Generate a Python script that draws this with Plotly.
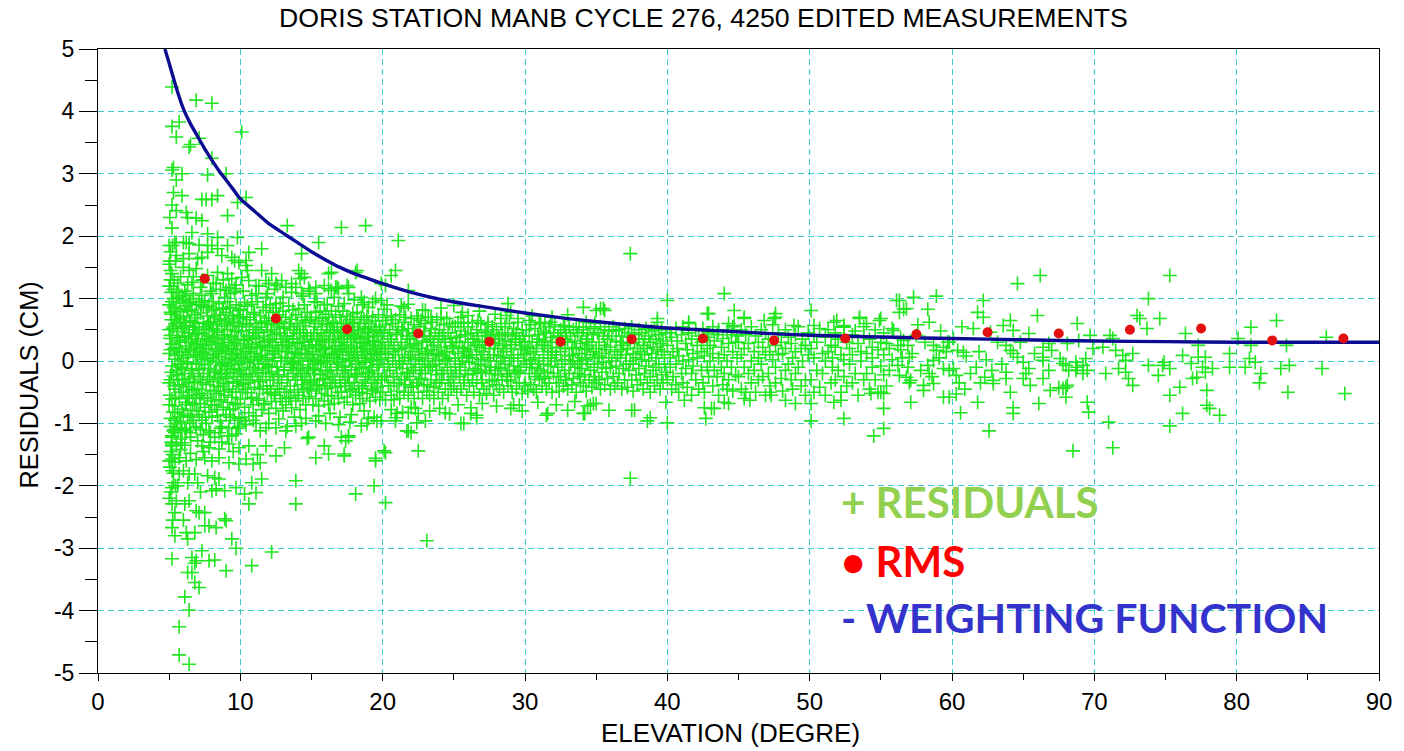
import plotly.graph_objects as go

TITLE = "DORIS STATION MANB CYCLE 276, 4250 EDITED MEASUREMENTS"
X_TITLE = "ELEVATION (DEGRE)"
Y_TITLE = "RESIDUALS (CM)"
X_TICKS = [0, 10, 20, 30, 40, 50, 60, 70, 80, 90]
X_TICK_LABELS = ["0", "10", "20", "30", "40", "50", "60", "70", "80", "90"]
Y_TICKS = [-5, -4, -3, -2, -1, 0, 1, 2, 3, 4, 5]
Y_TICK_LABELS = ["-5", "-4", "-3", "-2", "-1", "0", "1", "2", "3", "4", "5"]
LEGEND_LINES = ["+ RESIDUALS", "\u2022 RMS", "- WEIGHTING FUNCTION"]

# RMS per 5-degree elevation bin
RMS_ELEV = [7.5, 12.5, 17.5, 22.5, 27.5, 32.5, 37.5, 42.5, 47.5, 52.5,
            57.5, 62.5, 67.5, 72.5, 77.5, 82.5, 87.5]
RMS_VALUE = [1.32, 0.68, 0.51, 0.44, 0.31, 0.31, 0.35, 0.36, 0.33, 0.36,
             0.43, 0.46, 0.44, 0.50, 0.52, 0.33, 0.36]

# weighting function
WEIGHT_ELEV = [4.7, 5.0, 5.5, 6.0, 6.5, 7.0, 7.5, 8.0, 8.5, 9.0, 9.5, 10, 11, 12, 13,
               14, 15, 16, 17, 18, 19, 20, 22, 24, 26, 28, 30, 33, 36, 40, 44, 48,
               52, 56, 60, 65, 70, 75, 80, 90]
WEIGHT_VALUE = [5.0, 4.77, 4.38, 4.04, 3.8, 3.6, 3.4, 3.22, 3.05, 2.9, 2.75, 2.6, 2.4,
                2.2, 2.05, 1.9, 1.75, 1.62, 1.5, 1.4, 1.32, 1.24, 1.1, 0.99, 0.91, 0.84,
                0.77, 0.68, 0.61, 0.53, 0.48, 0.43, 0.40, 0.38, 0.36, 0.34, 0.32, 0.31,
                0.30, 0.30]

# residuals, "elevation: residual residual ..." groups
RESID_UPPER_OUT = """
5.2: 4.39 3.76 3.06 2.5 2.13 1.4; 6.9: 4.18; 8.0: 4.13 3.25 2.59 1.85; 5.7: 3.83; 5.5: 3.59 2.41 1.9 1.69 1.1;
6.4: 3.43 1.88 1.72 1.45; 6.5: 3.47; 7.1: 3.57 1.86; 10.1: 3.67 1.34; 5.3: 3.1; 5.9: 3.0 2.65 1.05;
7.7: 2.98 2.04 1.85 1.74 1.37; 9.0: 3.0 1.13; 7.3: 2.59 2.25 1.66 1.29; 7.6: 2.59; 8.4: 2.65 1.98 1.8 1.42;
9.8: 2.54 1.98; 10.4: 2.62 1.61 1.53; 6.2: 2.38 1.9; 6.3: 2.3; 6.9: 2.29 1.48; 9.1: 2.33 1.85 1.4;
13.3: 2.17; 17.1: 2.14; 18.8: 2.17; 15.5: 1.9; 21.1: 1.93; 6.6: 2.06 1.26; 6.0: 1.9 1.64 1.5;
10.6: 1.74 1.29; 11.5: 1.8 1.45; 14.3: 1.72 1.4 1.08; 20.9: 1.45; 20.6: 1.37; 18.1: 1.42; 16.2: 1.4 1.16;
14.1: 1.45; 12.2: 1.4; 7.0: 1.64; 8.7: 1.69; 9.4: 1.66 1.32; 9.6: 1.61 1.16; 9.9: 1.58; 10.5: 1.45;
8.3: 1.24; 9.2: 1.18; 12.9: 1.29; 13.6: 1.24; 14.2: 1.32; 14.5: 1.34; 15.3: 1.18 1.08; 15.9: 1.21;
16.4: 1.13 1.42; 16.9: 1.16; 17.5: 1.21; 11.8: 1.29 1.02; 12.5: 1.24 0.92; 11.1: 1.21 1.08; 21.8: 1.13;
20.2: 1.21; 18.2: 1.45; 16.8: 1.18; 17.6: 1.18 1.08; 13.2: 1.18; 12.0: 1.24; 12.6: 1.21; 13.9: 1.18;
14.8: 1.16; 16.7: 1.18; 18.5: 1.02; 19.5: 1.0; 19.9: 1.24; 5.4: 1.9; 5.0: 1.2 1.55; 5.1: 1.3 1.75;
5.3: 1.15; 5.6: 1.25; 5.8: 1.35; 6.1: 1.12; 6.3: 1.22; 6.7: 1.08 1.35; 7.2: 1.18; 7.4: 1.3; 7.9: 1.12;
8.1: 1.25; 8.6: 1.15; 8.8: 1.3; 9.3: 1.08; 9.7: 1.22
5.0: -1.6 1.85 -2.2 0.9; 5.05: 1.6 -1.7 2.3; 5.1: -2.1 1.45 -0.3; 5.15: 1.1 -1.3 0.75;
5.25: 1.85 -1.5 -2.55; 5.3: -1.8 2.7; 5.35: 1.3 -1.1; 5.45: -2.0 1.6; 5.5: 2.9 -1.35
"""

RESID_LOWER_OUT = """
5.2: -1.22 -1.36 -1.76 -2.03 -2.29 -2.67 -3.17 -1.57 -1.33; 5.6: -1.07 -2.0; 6.2: -1.12 -1.6 -2.75;
6.9: -1.07 -1.58 -2.4 -3.2; 7.8: -1.12 -1.39 -2.64 -3.2; 8.5: -1.15 -1.89 -1.55 -1.41; 9.2: -1.07 -1.63 -1.33;
9.7: -1.17 -2.03 -3.0; 9.9: -0.92 -1.65 -1.39; 10.3: -0.96 -2.13; 11.1: -1.0 -2.11; 11.8: -1.07 -1.36;
12.5: -1.07 -1.52; 13.2: -1.12; 13.9: -1.04 -1.92 -2.29; 14.8: -1.22; 15.3: -1.55 -0.96; 16.2: -1.49;
17.3: -1.52 -1.49; 15.9: -1.36; 17.6: -1.22 -1.2; 18.5: -1.04; 19.0: -0.92; 19.9: -0.96; 20.9: -0.91 -0.96;
21.8: -1.12 -0.83; 22.0: -1.15; 22.5: -1.44 -0.84; 22.4: -0.99; 19.4: -2.0; 18.1: -2.13; 20.2: -2.27 -1.47;
19.5: -1.6 -1.56; 12.2: -3.06; 10.8: -3.28 -1.95; 9.0: -3.36 -2.56; 9.4: -2.85; 5.7: -1.81 -1.55 -4.26 -4.71;
6.0: -1.76 -2.55; 6.4: -1.81 -2.24 -3.99 -4.86; 6.8: -1.81 -2.75 -3.55 -3.24; 5.3: -1.95; 7.7: -1.84;
8.2: -1.87 -3.19 -1.22; 8.0: -2.08 -1.6; 8.3: -2.05 -2.67; 8.9: -2.08 -2.53; 10.6: -2.29 -1.36; 11.5: -1.89;
5.4: -2.43 -2.8 -1.15 -1.62; 5.5: -2.24; 6.1: -2.29 -3.78 -1.35; 7.1: -2.43 -3.63; 7.5: -2.43 -2.64 -1.55;
6.3: -2.85 -3.39 -1.95; 6.6: -3.15 -3.39; 7.3: -3.04 -1.36; 5.9: -1.31; 10.4: -1.57; 10.9: -1.65;
11.4: -1.63; 11.2: -1.5; 13.1: -1.39; 14.7: -1.24; 17.1: -1.22; 17.4: -1.28; 20.1: -1.44; 21.7: -1.12;
25.7: -1.0; 23.0: -0.96; 24.4: -0.83; 26.2: -0.84; 26.6: -0.87 -0.91; 29.0: -0.76; 31.5: -0.87;
33.0: -0.79; 34.2: -0.84; 16.0: -1.0; 16.9: -1.02; 17.7: -0.98; 18.9: -1.0; 19.6: -0.96; 21.0: -0.84;
22.3: -0.76; 23.1: -2.88; 25.5: -1.0; 29.6: -0.71; 31.6: -0.84; 34.1: -0.84; 34.8: -0.68; 35.9: -0.79;
37.7: -0.79; 38.6: -0.96; 38.8: -0.91; 40.0: -0.99; 39.9: -0.66; 41.2: -0.63; 42.6: -0.75; 43.3: -0.76;
42.7: -0.92; 44.0: -0.66; 44.3: -0.68; 45.8: -0.63; 48.3: -0.63; 49.0: -0.68; 50.1: -0.96 -0.68;
51.7: -0.66; 52.2: -0.63; 52.4: -0.92; 54.5: -1.2; 55.2: -1.08 -0.76 -0.52; 54.3: -0.52; 55.0: -0.5;
37.4: -1.88; 34.6: -0.71; 35.0: -0.68; 37.5: -0.79; 43.1: -0.76; 45.4: -0.6; 47.2: -0.5; 47.3: -0.55;
5.1: -1.05 -1.45; 5.8: -1.25 -1.42; 6.5: -1.22 -1.48; 7.0: -1.28 -1.95; 7.4: -1.18 -1.45; 7.9: -1.3;
8.7: -1.3 -1.05; 9.1: -1.2; 9.5: -1.45; 9.8: -1.08; 7.2: -2.1
"""

RESID_MID_OUT = """
37.4: 1.72; 44.0: 1.08; 40.0: 0.97; 28.8: 0.92; 25.0: 0.89; 34.1: 0.86; 35.3: 0.84; 35.6: 0.81;
42.8: 0.76; 44.7: 0.81 0.57; 45.4: 0.7 0.68; 47.6: 0.76 0.7; 47.5: 0.68; 50.1: 0.81; 56.1: 0.97;
56.8: 0.84; 53.5: 0.7 0.68; 55.0: 0.68; 51.9: 0.65; 52.4: 0.57 0.54; 39.3: 0.68 0.62; 41.5: 0.6 0.62;
23.0: 0.81; 23.4: 0.7; 22.5: 0.68; 26.0: 0.73; 25.5: 0.7; 26.7: 0.65; 27.4: 0.62; 28.3: 0.68; 28.7: 0.73;
29.5: 0.68; 30.3: 0.65; 31.0: 0.62; 31.4: 0.6; 31.8: 0.62; 32.8: 0.57; 33.6: 0.54; 34.3: 0.62; 34.9: 0.6;
35.0: 0.81; 35.5: 0.84; 42.9: 0.76; 46.8: 0.65; 44.3: 0.6; 48.9: 0.57; 50.3: 0.57; 51.7: 0.62; 54.0: 0.6;
54.9: 0.65; 55.9: 0.49; 21.8: 0.91; 21.3: 0.88; 19.9: 0.97; 20.1: 0.83; 18.7: 0.94; 19.0: 0.86;
15.4: 0.94; 16.1: 0.91; 16.9: 0.88
"""

RESID_HIGH = """
56.3: 0.97 0.78 -0.23; 57.3: 1.02; 58.9: 1.04 0.17; 56.6: 0.83 0.33; 58.3: 0.83 -0.07; 58.4: 0.62 -0.2;
57.5: 0.41; 56.4: 0.36 0.18; 56.9: 0.25 -0.1; 56.2: 0.25 -0.07; 58.7: 0.25 0.01 -0.36; 59.6: 0.15;
59.4: 0.22 -0.12 -0.58; 60.4: 0.17; 60.8: 0.14; 59.7: 0.3; 60.1: 0.36 -0.12; 57.0: 0.06 -0.35; 56.8: -0.26;
57.1: -0.31 -0.66; 58.0: -0.39 -0.47; 59.8: -0.15 -0.58 0.3; 60.3: -0.23 -0.53; 60.6: -0.83; 60.9: -0.45;
61.8: -0.66 0.78; 61.5: 0.52; 62.2: 0.7 0.97; 62.7: 0.46; 63.6: 0.57; 64.1: 0.65 0.17 -0.5;
64.3: 0.49 0.12 -0.75 -0.84; 64.6: 1.24 0.06; 66.2: 1.37; 66.0: 0.73; 65.4: 0.44 -0.12; 61.7: -0.1;
62.3: -0.26; 62.0: -0.35; 62.9: -0.31 -0.36; 63.8: -0.18 -0.28 0.25; 65.0: -0.02 -0.28; 65.5: -0.39;
62.6: -1.12; 66.1: -0.68; 66.9: -0.47; 67.5: -0.43; 67.8: -0.44 -0.04; 68.1: -0.39 0.28; 67.0: 0.17;
66.4: 0.22 0.06 0.01 -0.28; 66.8: 0.28 -0.15; 67.6: 0.04; 68.0: -0.07 -0.58 -0.42; 68.2: -0.15;
68.7: -0.02 -0.15; 68.8: -0.1 0.6; 69.2: -0.2 -0.07; 69.5: -0.15 -0.66; 69.4: 0.04; 68.9: 0.33; 69.7: 0.41;
69.9: 0.2; 69.6: -0.82; 70.6: 0.22; 70.8: -0.2; 71.1: 0.41; 71.3: 0.36 -1.39; 71.5: 0.17; 71.0: -0.98;
68.5: -1.44; 72.0: 0.09; 72.2: 0.01 -0.18; 71.7: -0.12; 72.4: -0.28; 72.7: -0.39 0.12; 73.0: 0.73;
73.2: 0.68; 73.7: 0.52; 73.8: 1.0 -0.07; 74.6: 0.68; 75.3: 1.37 -0.12 -0.55 -1.04; 74.5: -0.23; 74.9: -0.02;
74.8: -0.07; 76.0: -0.42; 76.2: -0.84 0.09; 76.4: 0.44; 76.8: -0.04; 76.9: -0.28; 77.3: 0.25 0.06;
77.8: 0.06 -0.18; 77.6: -0.1; 78.3: -0.12; 77.9: -0.47 -0.71; 78.1: -0.76; 78.8: -0.87; 79.5: 0.12 -0.1;
80.1: 0.36; 80.6: -0.1; 81.0: 0.54 0.25; 80.9: 0.04; 81.3: -0.02; 81.7: -0.2; 81.6: -0.35; 82.8: 0.65;
83.1: -0.12; 83.7: -0.07; 83.6: -0.5; 83.5: 0.25; 86.0: -0.12; 86.3: 0.38; 87.6: -0.52; 77.2: -0.26;
56.5: 0.05; 57.2: 0.12; 57.8: -0.15; 58.1: 0.3; 58.6: -0.25; 59.1: 0.05; 60.5: -0.35; 61.0: 0.08;
61.3: -0.2; 61.9: 0.15; 62.4: 0.02; 62.8: -0.15; 63.2: 0.3; 63.5: -0.05; 64.8: 0.3; 65.2: -0.2; 65.8: 0.12;
57.6: 0.58; 59.2: 0.48; 60.7: 0.55
"""

RESID_CORE_05_10 = """
5.0: 0.12 -0.35 0.5 -0.7; 5.1: 0.78 -0.92 0.41 0.18; 5.2: -0.08 0.95 -0.61 0.27 -1.2; 5.3: -1.12 0.55 -0.24 0.86 1.0;
5.4: 0.03 -0.72 0.66 -0.45 -0.95; 5.5: 0.21 -1.0 0.93 -0.15 0.6; 5.6: 0.47 -0.83 0.72 0.09 -0.3;
5.7: -0.38 1.02 -0.58 0.33 0.15; 5.8: -0.97 0.61 -0.1 0.84 0.3; 5.9: -0.29 0.15 -0.77 0.52 -1.1;
6.0: 0.98 -0.5 0.04 0.71 -0.85; 6.1: -1.08 0.38 -0.2 0.88 0.62; 6.2: -0.66 0.24 0.57 -0.41 1.05;
6.3: 0.79 -0.88 0.1 -0.02 -0.6; 6.4: 0.45 -0.55 0.93 -0.28 0.2; 6.5: 0.18 -0.79 0.64 -1.15 0.95;
6.6: 0.35 -0.12 0.82 -0.47 -0.9; 6.7: 0.06 -0.95 0.55 1.0 -0.25; 6.8: -0.33 0.27 -0.7 0.74 0.5;
6.9: -0.05 0.43 -0.58 0.9 -1.05
7.0: 0.08 -0.44 0.69 0.32; 7.1: -0.86 0.51 -0.13 0.94; 7.2: -0.3 0.22 -0.68 0.77 -1.1; 7.3: 0.02 -0.95 0.44 -0.52 1.05;
7.4: 0.6 -0.2 0.13 0.87; 7.5: -0.74 0.36 -0.06 0.97; 7.6: -0.38 0.55 -1.0 0.19; 7.7: 0.72 -0.59 0.05 -0.25;
7.8: 0.4 -0.82 0.88 0.26; 7.9: -0.12 0.63 -0.47 0.01 -1.15; 8.0: 0.81 -0.64 0.3 -0.9 1.08; 8.1: 0.1 -0.33 0.52 0.95;
8.2: -0.18 0.69 -0.71 0.38; 8.3: -0.02 -0.52 0.84 0.16; 8.4: -0.88 0.46 -0.27 0.6; 8.5: 0.07 -0.62 0.92 0.28;
8.6: -0.41 0.74 -0.08 -0.96 -1.08; 8.7: 0.35 0.56 -0.21 0.12; 8.8: -0.74 0.83 -0.36 0.22; 8.9: 0.64 -0.03 -0.55 0.42 1.02;
9.0: -0.86 0.15 0.78 -0.28; 9.1: 0.5 -0.14 0.95 -0.66; 9.2: 0.3 -0.45 0.68 0.02; 9.3: -0.9 0.57 -0.18 0.86;
9.4: 0.2 -0.58 0.4 -0.04 -1.2; 9.5: 0.72 -0.77 0.1 -0.33; 9.6: 0.62 -0.12 0.34 -0.95 1.1; 9.7: 0.9 -0.5 0.05 0.47;
9.8: -0.25 0.74 -0.68 0.18; 9.9: -0.06 0.55 -0.4 0.81 -1.05
5.05: 0.36 -0.55; 5.15: -0.18 0.66; 5.25: 0.52 -0.82; 5.35: 0.2 -0.4; 5.45: -0.6 0.8; 5.55: 0.38 -0.22;
5.65: -0.05 1.1; 5.75: 0.68 -0.9; 5.85: 0.0 -0.5; 5.95: 0.4 -0.12; 6.05: -0.3 0.55; 6.15: 0.15 -0.7;
6.25: 0.82 -0.05; 6.35: -0.35 0.4; 6.45: 0.65 -1.0; 6.55: -0.15 0.3; 6.65: 0.55 -0.68; 6.75: -0.45 0.2;
6.85: 0.1 0.62; 6.95: -0.8 0.28; 7.05: 0.45 -0.2; 7.15: -0.55 0.15; 7.25: 0.9 -0.05; 7.35: 0.25 -0.35;
7.45: -0.6 0.5; 7.55: 0.1 -0.9; 7.65: 0.35 0.85; 7.75: -0.12 0.58; 7.85: 0.62 -0.3; 7.95: -0.7 0.32;
8.05: 0.05 0.5; 8.15: -0.48 0.72; 8.25: 0.2 -0.15; 8.35: 0.48 -0.78; 8.45: -0.4 0.12; 8.55: 0.66 -0.2;
8.65: 0.25 -0.62; 8.75: -0.05 0.85; 8.85: 0.42 -0.48; 8.95: -0.25 0.18; 9.05: 0.6 -0.08; 9.15: -0.35 0.25;
9.25: 0.85 -0.78; 9.35: 0.05 0.38; 9.45: -0.5 0.62; 9.55: 0.3 -0.2; 9.65: -0.7 0.12; 9.75: 0.28 -0.35;
9.85: 0.48 0.0; 9.95: -0.15 0.68
"""

RESID_CORE_10_20 = """
10.0: 0.25 -0.61 0.83; 10.1: -0.14 0.48 -0.9; 10.2: 0.06 0.71 -0.37 1.12; 10.3: -0.74 0.33 0.94;
10.4: -0.22 0.15 0.58 -1.02; 10.5: -0.51 0.88 -0.03; 10.6: 0.4 -0.83 0.2; 10.7: -0.3 0.66 0.02;
10.8: 0.91 -0.58 0.27 1.05; 10.9: -0.11 0.5 -0.7 -0.95; 11.0: 0.12 0.78 -0.42; 11.1: -0.88 0.37 0.6;
11.2: -0.19 0.07 0.95; 11.3: 0.45 -0.63 -0.05 1.2; 11.4: 0.72 -0.33 0.23 -1.12; 11.5: -0.78 0.54 0.1;
11.6: 0.86 -0.45 -0.12; 11.7: 0.3 -0.68 0.64; 11.8: -0.25 0.02 0.81; 11.9: 0.47 -0.52 0.17 1.08;
12.0: -0.84 0.69 -0.08 -1.0; 12.1: 0.35 0.9 -0.4; 12.2: -0.17 0.58 -0.65; 12.3: 0.11 0.78 -0.3;
12.4: -0.55 0.42 0.0 1.15; 12.5: 0.25 -0.76 0.85; 12.6: -0.1 0.6 -0.44; 12.7: 0.74 -0.22 0.16 -0.93;
12.8: -0.6 0.45 0.93; 12.9: 0.06 -0.35 0.62; 13.0: -0.8 0.3 0.8 1.02; 13.1: 0.52 -0.14 -0.5;
13.2: 0.2 0.7 -0.7; 13.3: -0.3 0.4 0.04 -1.05; 13.4: 0.88 -0.58 0.24; 13.5: -0.05 0.55 -0.4;
13.6: 0.67 -0.75 0.12 1.1; 13.7: -0.2 0.36 0.82; 13.8: 0.5 -0.46 -0.02 -0.9; 13.9: 0.14 -0.64 0.74;
14.0: -0.3 0.6 0.28; 14.1: 0.84 -0.12 -0.55; 14.2: 0.05 0.44 -0.78; 14.3: -0.38 0.7 0.18 -1.0;
14.4: 0.56 -0.6 -0.06 1.04; 14.5: 0.3 -0.25 0.9; 14.6: -0.7 0.12 0.62 -0.92; 14.7: 0.4 -0.42 0.78;
14.8: -0.15 0.22 -0.57; 14.9: 0.66 0.0 -0.32 1.12
15.0: 0.35 -0.48 0.7; 15.1: -0.12 0.15 -0.7; 15.2: 0.55 -0.3 0.02 0.95; 15.3: 0.78 -0.6 0.26;
15.4: -0.05 0.44 -0.38; 15.5: 0.64 0.1 -0.72 -0.88; 15.6: -0.22 0.32 0.8; 15.7: 0.5 -0.52 -0.03;
15.8: 0.18 0.68 -0.28; 15.9: -0.64 0.4 0.06 0.9; 16.0: 0.75 -0.16 0.22; 16.1: -0.44 0.58 0.0;
16.2: 0.3 -0.7 0.7; 16.3: -0.1 0.48 -0.35 -0.84; 16.4: 0.12 0.8 -0.56; 16.5: 0.62 -0.25 0.34;
16.6: -0.68 0.05 0.5 1.02; 16.7: 0.24 -0.42 0.74; 16.8: -0.15 0.55 0.1; 16.9: 0.4 -0.6 -0.02;
17.0: 0.7 0.18 -0.3 -0.9; 17.1: -0.5 0.36 0.6; 17.2: 0.02 -0.2 0.8; 17.3: 0.46 -0.66 0.25 0.92;
17.4: -0.08 0.6 -0.4; 17.5: 0.3 0.72 -0.58; 17.6: -0.25 0.14 0.5; 17.7: 0.66 -0.48 0.04;
17.8: 0.2 -0.14 0.42 -0.86; 17.9: -0.7 0.55 0.76; 18.0: 0.1 -0.34 0.62 0.98; 18.1: 0.38 -0.55 -0.05;
18.2: 0.78 0.22 -0.22; 18.3: -0.44 0.48 0.0; 18.4: 0.6 -0.68 0.3; 18.5: -0.12 0.15 0.7;
18.6: 0.44 -0.4 -0.6 0.9; 18.7: 0.05 0.66 0.28 -0.8; 18.8: -0.3 0.52 -0.02; 18.9: 0.72 -0.52 0.18;
19.0: -0.18 0.38 0.6; 19.1: 0.25 -0.64 -0.1; 19.2: 0.55 0.02 -0.35; 19.3: -0.48 0.7 0.32 0.94;
19.4: 0.12 -0.25 0.48 -0.9; 19.5: 0.64 -0.58 0.2; 19.6: -0.06 0.4 -0.42; 19.7: 0.3 0.74 -0.2;
19.8: -0.62 0.1 0.55; 19.9: 0.45 -0.3 0.02
10.05: 0.1 -0.3; 10.15: 0.6 -0.5; 10.25: -0.2 0.35; 10.35: 0.05 -0.45; 10.45: 0.7 0.4; 10.55: -0.35 0.22;
10.65: 0.55 -0.1; 10.75: -0.6 0.15; 10.85: 0.35 -0.25; 10.95: 0.75 0.0; 11.05: -0.15 0.45; 11.15: 0.2 -0.6;
11.25: 0.5 -0.3; 11.35: -0.45 0.3; 11.45: 0.05 0.62; 11.55: -0.2 0.25; 11.65: 0.4 -0.7; 11.75: 0.1 -0.05;
11.85: 0.6 -0.4; 11.95: -0.1 0.32; 12.05: 0.22 -0.2; 12.15: -0.5 0.5; 12.25: 0.3 0.05; 12.35: -0.3 0.65;
12.45: 0.15 -0.55; 12.55: 0.45 -0.1; 12.65: -0.25 0.2; 12.75: 0.55 -0.45; 12.85: 0.0 0.35; 12.95: 0.25 -0.65;
13.05: -0.15 0.55; 13.15: 0.4 0.05; 13.25: -0.5 0.25; 13.35: 0.15 -0.25; 13.45: 0.6 0.3; 13.55: -0.1 -0.6;
13.65: 0.35 -0.05; 13.75: 0.0 0.5; 13.85: -0.3 0.2; 13.95: 0.45 -0.15; 14.05: 0.1 -0.5; 14.15: 0.5 0.3;
14.25: -0.2 0.0; 14.35: 0.3 -0.3; 14.45: -0.45 0.45; 14.55: 0.12 0.65; 14.65: 0.4 -0.2; 14.75: -0.1 0.1;
14.85: 0.25 -0.45; 14.95: -0.35 0.4; 15.05: 0.05 0.25; 15.15: 0.45 -0.2; 15.25: -0.15 0.6; 15.35: 0.2 -0.45;
15.45: 0.35 0.0; 15.55: -0.4 0.25; 15.65: 0.1 -0.15; 15.75: 0.6 0.3; 15.85: -0.3 0.0; 15.95: 0.2 -0.4;
16.05: 0.45 0.1; 16.15: -0.2 -0.55; 16.25: 0.05 0.35; 16.35: 0.55 -0.15; 16.45: -0.35 0.2; 16.55: 0.1 0.6;
16.65: 0.3 -0.3; 16.75: -0.05 0.05; 16.85: 0.45 -0.5; 16.95: 0.15 0.3; 17.05: -0.4 0.45; 17.15: 0.2 -0.1;
17.25: 0.55 0.35; 17.35: -0.15 -0.35; 17.45: 0.1 0.2; 17.55: 0.4 -0.25; 17.65: -0.35 0.0; 17.75: 0.25 0.6;
17.85: 0.0 -0.45; 17.95: 0.35 0.15; 18.05: -0.2 0.4; 18.15: 0.15 -0.25; 18.25: 0.5 0.05; 18.35: -0.1 -0.5;
18.45: 0.3 0.35; 18.55: -0.4 0.1; 18.65: 0.2 -0.1; 18.75: 0.55 -0.35; 18.85: 0.05 0.25; 18.95: -0.25 0.45;
19.05: 0.4 -0.2; 19.15: 0.1 0.15; 19.25: -0.15 -0.45; 19.35: 0.3 0.0; 19.45: -0.35 0.3; 19.55: 0.5 0.1;
19.65: 0.15 -0.3; 19.75: -0.05 0.5; 19.85: 0.25 -0.5; 19.95: -0.3 0.2
"""

RESID_CORE_20_35 = """
20.0: 0.3 -0.5 0.65; 20.1: -0.1 0.45; 20.2: 0.12 -0.62 0.58; 20.3: 0.7 -0.25 0.9; 20.4: -0.4 0.2 0.05;
20.5: 0.5 -0.15; 20.6: -0.55 0.35 0.72 -0.78; 20.7: 0.0 0.6; 20.8: 0.25 -0.35 -0.62; 20.9: 0.66 0.1;
21.0: -0.2 0.42 -0.48; 21.1: 0.55 0.18; 21.2: -0.05 -0.6 0.74; 21.3: 0.3 -0.3; 21.4: 0.48 -0.12 0.0 -0.82;
21.5: -0.5 0.62 0.85; 21.6: 0.22 0.7 -0.38; 21.7: -0.18 0.4; 21.8: 0.06 -0.55 0.52; 21.9: 0.35 -0.25;
22.0: 0.68 -0.05 -0.42 -0.74; 22.1: 0.15 0.45; 22.2: -0.6 0.28 0.58; 22.3: -0.1 0.02; 22.4: 0.4 -0.35 0.72;
22.5: 0.2 -0.5; 22.6: -0.15 0.55 0.1; 22.7: 0.65 -0.28; 22.8: 0.32 -0.6 0.0 0.82; 22.9: -0.38 0.48;
23.0: 0.12 0.6 -0.2; 23.1: -0.48 0.3; 23.2: 0.7 0.04 -0.1; 23.3: 0.4 -0.55 -0.8; 23.4: -0.3 0.18 0.52;
23.5: 0.62 -0.08; 23.6: 0.25 -0.42 -0.6; 23.7: 0.45 0.0; 23.8: -0.22 0.66 0.12; 23.9: 0.35 -0.5;
24.0: -0.05 0.5 -0.35 -0.76; 24.1: 0.22 0.7 0.85; 24.2: -0.6 0.08 0.4; 24.3: 0.58 -0.2; 24.4: -0.45 0.3 0.02;
24.5: 0.15 0.68; 24.6: -0.3 0.45 -0.55; 24.7: 0.05 0.6 -0.85; 24.8: 0.36 -0.15 -0.45; 24.9: 0.24 0.55
25.0: 0.2 -0.4; 25.1: 0.55 -0.1 0.05; 25.2: -0.5 0.38; 25.3: 0.12 0.62 -0.7; 25.4: -0.25 0.3 -0.05;
25.5: 0.48 -0.45; 25.6: 0.0 0.22 0.78; 25.7: -0.35 0.6 0.15; 25.8: 0.42 -0.15; 25.9: -0.55 0.08;
26.0: 0.3 0.55 -0.22; 26.1: -0.02 -0.4; 26.2: 0.18 0.45 -0.75; 26.3: -0.3 0.62 0.05; 26.4: 0.35 -0.5;
26.5: -0.12 0.25; 26.6: 0.5 -0.35 0.1; 26.7: -0.05 0.4; 26.8: 0.22 -0.55 0.8; 26.9: 0.6 -0.18 0.02;
27.0: -0.3 0.32 -0.68; 27.1: 0.15 -0.45; 27.2: 0.48 -0.08 0.26; 27.3: -0.52 0.4; 27.4: 0.05 0.58;
27.5: -0.2 0.2 -0.4; 27.6: 0.36 -0.1; 27.7: 0.55 -0.32; 27.8: 0.1 -0.55 0.42; 27.9: -0.15 0.28 0.75;
28.0: 0.5 0.0 -0.38 -0.72; 28.1: 0.2 -0.22; 28.2: -0.45 0.35; 28.3: 0.6 0.08 -0.12; 28.4: -0.3 0.45;
28.5: 0.15 -0.5; 28.6: 0.32 -0.05 0.55; 28.7: -0.25 0.2; 28.8: 0.42 -0.4; 28.9: 0.0 0.6 -0.15;
29.0: 0.26 -0.32 0.78; 29.1: -0.5 0.4; 29.2: 0.1 0.52 -0.08 -0.7; 29.3: -0.2 0.3; 29.4: 0.45 -0.45;
29.5: 0.05 -0.18 0.62; 29.6: 0.35 -0.35; 29.7: -0.1 0.18; 29.8: 0.5 -0.52 0.25 -0.8; 29.9: 0.0 0.4
30.0: 0.3 -0.35; 30.1: -0.05 0.5 0.12; 30.2: -0.48 0.22; 30.3: 0.4 -0.2; 30.4: 0.02 0.58 -0.38;
30.5: 0.3 -0.1 0.72; 30.6: -0.45 0.15; 30.7: 0.52 -0.25 0.05; 30.8: 0.2 -0.5; 30.9: -0.12 0.42 -0.66;
31.0: 0.35 0.0 -0.3; 31.1: 0.6 -0.15; 31.2: -0.4 0.25; 31.3: 0.1 0.48 -0.05; 31.4: -0.28 0.32;
31.5: 0.45 -0.45; 31.6: 0.05 0.2 -0.18; 31.7: 0.55 -0.35; 31.8: -0.08 0.38; 31.9: 0.15 -0.5 0.3 0.7;
32.0: 0.45 -0.2; 32.1: 0.0 0.58; 32.2: -0.35 0.22 0.1 -0.7; 32.3: 0.4 -0.1; 32.4: -0.48 0.3;
32.5: 0.15 0.5 -0.25; 32.6: -0.05 0.35; 32.7: 0.55 -0.4; 32.8: 0.2 -0.15 0.02; 32.9: -0.3 0.45;
33.0: 0.3 -0.45 0.74; 33.1: 0.08 0.55 -0.2; 33.2: 0.4 -0.05; 33.3: -0.38 0.2; 33.4: 0.5 0.1 -0.28;
33.5: -0.1 0.32 -0.65; 33.6: 0.22 -0.5; 33.7: 0.45 -0.2 0.0; 33.8: 0.12 0.55; 33.9: -0.35 0.28;
34.0: 0.05 -0.12 0.4; 34.1: 0.5 -0.4; 34.2: -0.22 0.18; 34.3: 0.35 0.02 -0.48; 34.4: -0.05 0.45 -0.72;
34.5: 0.25 -0.3; 34.6: 0.55 0.1 -0.15; 34.7: -0.42 0.3; 34.8: 0.15 0.42; 34.9: -0.25 0.05 0.52
20.15: 0.2 -0.25; 20.35: -0.05 0.4; 20.55: 0.3 -0.4; 20.75: -0.25 0.15; 20.95: 0.45 -0.1; 21.15: 0.0 -0.35;
21.35: 0.2 0.5; 21.55: -0.3 0.05; 21.75: 0.35 -0.2; 21.95: 0.1 0.25; 22.15: -0.4 -0.15; 22.35: 0.25 0.45;
22.55: 0.05 -0.3; 22.75: -0.2 0.2; 22.95: 0.4 -0.05; 23.15: 0.15 -0.4; 23.35: -0.1 0.35; 23.55: 0.3 0.1;
23.75: -0.35 -0.15; 23.95: 0.1 0.4; 24.15: -0.2 -0.3; 24.35: 0.35 0.15; 24.55: 0.0 -0.1; 24.75: -0.35 0.3;
24.95: 0.2 -0.25; 25.15: 0.3 -0.2; 25.45: -0.1 0.4; 25.75: 0.2 -0.3; 26.05: 0.05 0.1; 26.35: -0.2 0.35;
26.65: 0.3 -0.15; 26.95: 0.1 -0.35; 27.25: -0.15 0.45; 27.55: 0.3 0.0; 27.85: -0.3 0.2; 28.15: 0.4 -0.1;
28.45: 0.05 0.25; 28.75: -0.2 -0.3; 29.05: 0.2 0.05; 29.35: 0.35 -0.2; 29.65: -0.15 0.3; 29.95: 0.1 -0.4;
30.35: 0.2 -0.05; 30.85: -0.2 0.3; 31.35: 0.25 -0.25; 31.85: 0.05 0.15; 32.35: -0.25 0.4; 32.85: 0.35 -0.3;
33.35: 0.0 0.2; 33.85: -0.25 -0.05; 34.35: 0.2 0.3; 34.85: -0.1 -0.3
"""

RESID_CORE_35_56 = """
35.0: 0.2 -0.35; 35.1: 0.45 -0.05; 35.2: -0.3 0.3 0.08; 35.3: 0.55 -0.45; 35.4: 0.12 -0.18; 35.5: -0.02 0.4;
35.6: 0.25 -0.38 0.5; 35.7: -0.12 0.18; 35.8: 0.35 -0.28; 35.9: 0.05 0.48; 36.0: -0.45 0.22 -0.1;
36.1: 0.4 0.0; 36.2: -0.25 0.55; 36.3: 0.15 -0.4; 36.4: 0.32 -0.08 0.48; 36.5: -0.35 0.1; 36.6: 0.5 -0.2;
36.7: 0.05 0.3; 36.8: -0.45 0.4 0.18; 36.9: 0.25 -0.12; 37.0: -0.3 0.52; 37.1: 0.1 -0.05;
37.2: 0.38 -0.42 0.2; 37.3: -0.15 0.45; 37.4: 0.0 0.28; 37.5: 0.55 -0.3; 37.6: -0.05 0.12 -0.48;
37.7: 0.42 0.3; 37.8: -0.22 0.05; 37.9: 0.2 -0.38; 38.0: 0.5 -0.12 0.35; 38.1: -0.3 0.15; 38.2: 0.02 0.45;
38.3: -0.45 0.25; 38.4: 0.35 -0.2 0.1; 38.5: -0.08 0.52; 38.6: 0.2 -0.35; 38.7: 0.4 0.0;
38.8: -0.25 0.3 -0.5; 38.9: 0.12 0.48; 39.0: -0.15 0.22; 39.1: 0.5 -0.4; 39.2: 0.05 0.35 -0.1;
39.3: -0.3 0.18; 39.4: 0.42 -0.05; 39.5: -0.45 0.28; 39.6: 0.15 0.5 -0.22; 39.7: 0.32 -0.35;
39.8: -0.05 0.1; 39.9: 0.45 -0.18
40.0: 0.25 -0.3; 40.2: -0.1 0.45 0.05; 40.3: 0.38 -0.45; 40.4: -0.25 0.15; 40.6: 0.52 -0.05 -0.38;
40.7: 0.2 0.32; 40.8: -0.5 0.08; 41.0: 0.42 -0.2; 41.1: 0.0 0.55 -0.35; 41.3: 0.28 -0.12; 41.4: -0.42 0.18;
41.5: 0.45 0.02; 41.7: -0.2 0.35 -0.55; 41.8: 0.12 -0.08; 42.0: 0.5 -0.3; 42.1: 0.25 0.05; 42.2: -0.45 0.4;
42.4: 0.15 -0.15 0.3; 42.5: -0.35 0.52; 42.6: 0.08 -0.5; 42.8: 0.38 0.2 -0.1; 42.9: -0.25 0.45;
43.0: 0.0 0.25; 43.2: 0.55 -0.4 0.12; 43.3: -0.15 0.32; 43.5: 0.42 -0.25; 43.6: 0.05 -0.55 0.5;
43.8: 0.22 -0.1; 43.9: -0.38 0.36; 44.0: 0.1 -0.2; 44.2: 0.48 0.0 -0.45; 44.3: 0.28 -0.3; 44.5: -0.1 0.42;
44.6: 0.15 -0.48 0.55; 44.8: -0.22 0.3; 44.9: 0.4 0.05
45.0: 0.3 -0.25; 45.2: -0.45 0.1 0.5; 45.4: 0.2 -0.1; 45.5: 0.42 -0.5; 45.7: -0.2 0.28; 45.9: 0.55 0.0 -0.35;
46.1: 0.15 -0.15; 46.2: -0.5 0.4; 46.4: 0.3 -0.3 0.05; 46.6: 0.5 -0.05; 46.7: -0.25 0.22;
46.9: 0.1 -0.55 0.45; 47.1: 0.35 -0.2; 47.2: -0.4 0.15; 47.4: 0.02 0.58; 47.6: 0.25 -0.35 -0.1;
47.8: 0.45 0.1; 48.0: -0.28 0.3; 48.1: 0.12 -0.48; 48.3: 0.5 -0.15 0.2; 48.5: -0.05 0.38; 48.7: 0.28 -0.3;
48.8: -0.45 0.05; 49.0: 0.42 -0.2 0.15; 49.2: -0.1 0.55; 49.4: 0.2 -0.4; 49.5: 0.35 0.0;
49.7: -0.3 0.25 -0.55; 49.9: 0.1 0.45
50.1: 0.2 -0.3; 50.3: -0.5 0.4 0.05; 50.5: 0.3 -0.15; 50.7: 0.52 -0.42; 50.9: -0.2 0.12;
51.1: 0.38 -0.55 0.0; 51.3: 0.15 0.5; 51.5: -0.35 0.25; 51.6: 0.05 -0.1; 51.8: 0.45 -0.3 0.22;
52.0: -0.15 0.35; 52.2: 0.1 -0.5; 52.4: 0.55 0.02 -0.25; 52.6: -0.4 0.3; 52.8: 0.2 -0.05;
53.0: 0.42 -0.35 0.1; 53.2: -0.2 0.48; 53.4: 0.28 -0.55; 53.6: 0.0 0.15; 53.8: -0.3 0.4 0.55;
54.0: 0.12 -0.2; 54.2: 0.35 -0.45; 54.4: -0.1 0.22 0.05; 54.6: 0.5 -0.3; 54.8: -0.5 0.18; 55.0: 0.3 -0.08;
55.2: 0.1 0.45 -0.22; 55.4: -0.4 0.28; 55.6: 0.2 -0.15; 55.8: 0.52 0.02
"""

RESID_BLOCKS = [RESID_CORE_05_10, RESID_CORE_10_20, RESID_CORE_20_35, RESID_CORE_35_56,
                RESID_UPPER_OUT, RESID_LOWER_OUT, RESID_MID_OUT, RESID_HIGH]


def parse_block(block):
    elev, res = [], []
    for chunk in block.replace("\n", ";").split(";"):
        chunk = chunk.strip()
        if not chunk:
            continue
        e, rs = chunk.split(":")
        for r in rs.split():
            elev.append(float(e))
            res.append(float(r))
    return elev, res


resid_elev, resid_value = [], []
for blk in RESID_BLOCKS:
    e, r = parse_block(blk)
    resid_elev += e
    resid_value += r

# ---- layout geometry (pixels) ----
W, H = 1404, 751
L, R, T, B = 98, 14, 49, 78
PW, PH = W - L - R, H - T - B


def px(xp):
    return (xp - L) / PW


def py(yp):
    return (H - B - yp) / PH


fig = go.Figure()
fig.add_trace(go.Scatter(
    x=resid_elev, y=resid_value, mode="markers",
    marker=dict(symbol="cross-thin", size=10, color="#20e620",
                line=dict(width=1.6, color="#20e620")),
    hoverinfo="skip", showlegend=False))
fig.add_trace(go.Scatter(
    x=WEIGHT_ELEV, y=WEIGHT_VALUE, mode="lines",
    line=dict(color="#0c0c92", width=3.4, shape="spline", smoothing=0.6),
    showlegend=False))
fig.add_trace(go.Scatter(
    x=RMS_ELEV, y=RMS_VALUE, mode="markers",
    marker=dict(symbol="circle", size=10, color="#e21010"),
    showlegend=False))

grid = dict(gridcolor="#3ccccc", griddash="6px,4px", gridwidth=1)
fig.update_xaxes(range=[0, 90], tickmode="array", tickvals=X_TICKS, ticktext=X_TICK_LABELS,
                 ticks="outside", ticklen=7, tickcolor="black", tickwidth=1,
                 showline=True, linecolor="black", linewidth=1, mirror=True,
                 zeroline=False, showgrid=True, **grid,
                 tickfont=dict(family="Liberation Sans, Arial", size=24, color="black"),
                 minor=dict(tickmode="linear", tick0=0, dtick=5, ticks="outside", ticklen=6,
                            tickcolor="black", showgrid=False))
fig.update_yaxes(range=[-5, 5], tickmode="array", tickvals=Y_TICKS, ticktext=Y_TICK_LABELS,
                 ticks="outside", ticklen=18, tickcolor="black", tickwidth=1,
                 showline=True, linecolor="black", linewidth=1, mirror=True,
                 zeroline=False, showgrid=True, **grid,
                 tickfont=dict(family="Liberation Sans, Arial", size=23, color="black"),
                 minor=dict(tickmode="linear", tick0=0, dtick=0.5, ticks="outside", ticklen=12,
                            tickcolor="black", showgrid=False))

ann = [
    dict(text=TITLE, x=px(709), y=py(18), yanchor="middle", font=dict(size=26.7)),
    dict(text=X_TITLE, x=px(736), y=py(750), yanchor="bottom", font=dict(size=26)),
    dict(text=Y_TITLE, x=px(28), y=py(385), yanchor="middle", textangle=-90, font=dict(size=25.4)),
]
for a in ann:
    a.update(xref="paper", yref="paper", showarrow=False, xanchor="center")
    a["font"].update(family="Liberation Sans, Arial", color="black")

leg_colors = ["#92d050", "#ff0000", "#3333cc"]
leg_y = [502, 561, 617]
leg_size = [42, 42, 41]
for txt, col, yy, sz in zip(LEGEND_LINES, leg_colors, leg_y, leg_size):
    ann.append(dict(text="<b>" + txt + "</b>", x=px(845), y=py(yy), xref="paper", yref="paper",
                    showarrow=False, xanchor="left", yanchor="middle",
                    font=dict(family="Lato, Calibri, sans-serif", size=sz, color=col)))

fig.update_layout(width=W, height=H, margin=dict(l=L, r=R, t=T, b=B),
                  paper_bgcolor="white", plot_bgcolor="white",
                  annotations=ann, showlegend=False)

fig.write_html("out.html")
